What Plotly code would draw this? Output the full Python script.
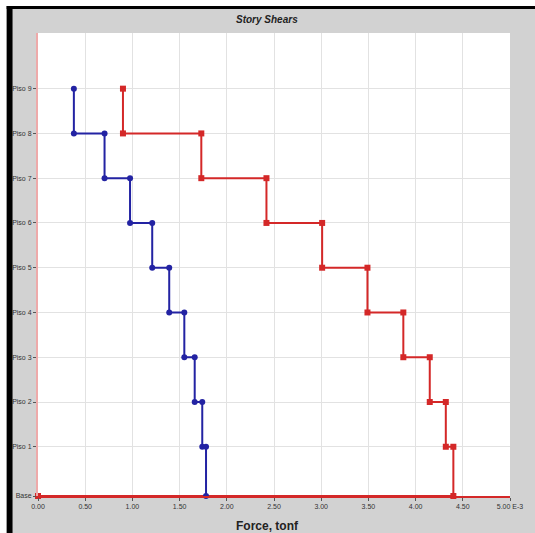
import plotly.graph_objects as go

# ---- data ----
stories = ["Base", "Piso 1", "Piso 2", "Piso 3", "Piso 4", "Piso 5", "Piso 6", "Piso 7", "Piso 8", "Piso 9"]
elevations = [0.0, 3.3, 6.3, 9.3, 12.3, 15.3, 18.3, 21.3, 24.3, 27.3]
# story shear for Piso 1..Piso 9 (E-3 tonf)
shear_blue = [1.78, 1.74, 1.66, 1.55, 1.39, 1.21, 0.975, 0.705, 0.38]
shear_red = [4.40, 4.32, 4.15, 3.87, 3.49, 3.01, 2.42, 1.73, 0.90]
x_tickvals = [0.0, 0.5, 1.0, 1.5, 2.0, 2.5, 3.0, 3.5, 4.0, 4.5, 5.0]
x_ticktext = ["0.00", "0.50", "1.00", "1.50", "2.00", "2.50", "3.00", "3.50", "4.00", "4.50", "5.00 E-3"]


def step_path(values):
    xs, ys = [], []
    for k in range(len(values), 0, -1):
        v = values[k - 1]
        xs += [v, v]
        ys += [elevations[k], elevations[k - 1]]
    return xs, ys


bx, by = step_path(shear_blue)
rx, ry = step_path(shear_red)
rx.append(0.0)
ry.append(elevations[0])

BLUE = "#2323a3"
RED = "#d42828"

fig = go.Figure()
fig.add_trace(go.Scatter(x=rx, y=ry, mode="lines+markers",
                         line=dict(color=RED, width=2),
                         marker=dict(color=RED, size=6, symbol="square"),
                         cliponaxis=False, showlegend=False))
fig.add_trace(go.Scatter(x=bx, y=by, mode="lines+markers",
                         line=dict(color=BLUE, width=2),
                         marker=dict(color=BLUE, size=6, symbol="circle"),
                         cliponaxis=False, showlegend=False))

# figure geometry (pixels)
L, R, T, B = 33, 20, 33, 37
W, H = 535, 533
pw = W - L - R
ph = H - T - B


def px_x(px):
    return (px - L) / pw


def px_y(py):
    return (H - B - py) / ph


shapes = [
    dict(type="rect", xref="paper", yref="paper", x0=px_x(-10), x1=px_x(W + 10),
         y0=px_y(6), y1=px_y(-10), fillcolor="white", line_width=0),
    dict(type="rect", xref="paper", yref="paper", x0=px_x(-10), x1=px_x(1),
         y0=px_y(H + 10), y1=px_y(-10), fillcolor="white", line_width=0),
    dict(type="rect", xref="paper", yref="paper", x0=px_x(1), x1=px_x(W + 10),
         y0=px_y(9), y1=px_y(6), fillcolor="black", line_width=0),
    dict(type="rect", xref="paper", yref="paper", x0=px_x(1), x1=px_x(7),
         y0=px_y(H + 10), y1=px_y(6), fillcolor="black", line_width=0),
]

fig.update_layout(
    width=W, height=H,
    margin=dict(l=L, r=R, t=T, b=B),
    paper_bgcolor="#d2d2d2",
    plot_bgcolor="white",
    shapes=shapes,
    font=dict(family="Liberation Sans, Arial, sans-serif", color="#333"),
    annotations=[
        dict(text="<b><i>Story Shears</i></b>", xref="paper", yref="paper",
             x=px_x(267), y=px_y(19), xanchor="center", yanchor="middle",
             showarrow=False, font=dict(size=10, color="#222")),
        dict(text="<b>Force, tonf</b>", xref="paper", yref="paper",
             x=px_x(267), y=px_y(526), xanchor="center", yanchor="middle",
             showarrow=False, font=dict(size=12, color="#222")),
    ],
)

fig.update_xaxes(range=[0, 5.0], tickvals=x_tickvals, ticktext=x_ticktext,
                 showgrid=True, gridcolor="#e2e2e2", gridwidth=1,
                 zeroline=False, showline=True, linecolor=RED, linewidth=2,
                 ticks="outside", ticklen=3, tickcolor="#555",
                 tickfont=dict(size=7, color="#333"), fixedrange=True)
fig.update_yaxes(range=[0, 31.03], tickvals=elevations, ticktext=stories,
                 showgrid=True, gridcolor="#e2e2e2", gridwidth=1,
                 zeroline=False, showline=True, linecolor="#eeaaaa", linewidth=2,
                 ticks="outside", ticklen=3, tickcolor="#555",
                 tickfont=dict(size=7, color="#333"), fixedrange=True)

fig.write_html("out.html", config={"displayModeBar": False},
               post_script="document.body.style.margin='0px';document.body.style.overflow='hidden';")
